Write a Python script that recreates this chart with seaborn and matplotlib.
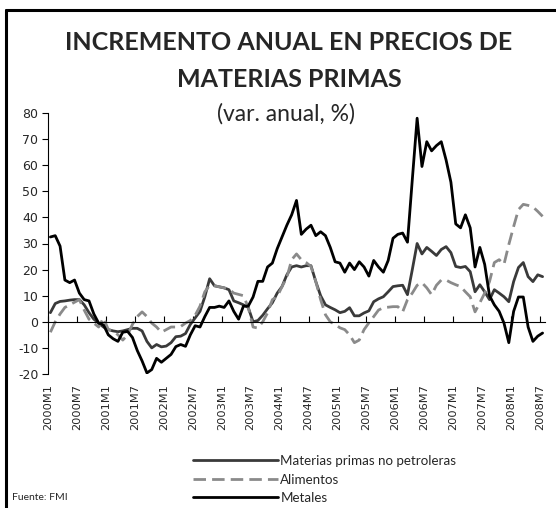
import numpy as np
import pandas as pd
import matplotlib
matplotlib.use("Agg")
import matplotlib.pyplot as plt
import seaborn as sns
from matplotlib.lines import Line2D

# ---------------- data ----------------
periodos = [f"{p.year}M{p.month}" for p in pd.period_range("2000-01", "2008-07", freq="M")]

tick_labels = ["2000M1", "2000M7", "2001M1", "2001M7", "2002M1", "2002M7",
               "2003M1", "2003M7", "2004M1", "2004M7", "2005M1", "2005M7",
               "2006M1", "2006M7", "2007M1", "2007M7", "2008M1", "2008M7"]

materias_primas = [
    3.5, 7, 7.8, 8, 8.3, 8.5, 8.5, 6.5, 3.5, 1,
    -0.5, -2, -3, -3.5, -3.8, -3.5, -3, -2.5, -2.5, -3.5,
    -7.5, -10, -8.7, -9.6, -9.3, -8, -5.7, -5.5, -4.5, -1,
    1.5, 4, 9.6, 16.5, 13.8, 13.4, 13, 12.3, 8, 7.3,
    6.5, 5.5, 0, 0.5, 2.5, 5, 7.3, 11, 13.5, 18,
    21, 21.5, 21, 21.5, 21.5, 15.4, 10, 6.5, 5.5, 4.6,
    3.5, 4, 5.4, 2.3, 2.3, 3.4, 4.2, 7.7, 8.8, 9.6,
    11.5, 13.5, 13.8, 14, 10.4, 20, 30, 26, 28.5, 27,
    25.4, 27.7, 28.8, 26.5, 21.2, 20.8, 21.2, 19.2, 11.5, 14.2,
    11.5, 8.5, 12.3, 11, 9.6, 7.7, 15.4, 20.8, 22.7, 17.3,
    15.4, 18, 17.3]

alimentos = [
    -4, 0, 3, 5.5, 6.5, 7.5, 8.5, 4.5, 1, -0.5,
    -2, 1.5, -3, -3.5, -5, -7, -5, -1, 2, 3.8,
    2, -0.5, -2, -4, -3, -2, -2, -1.8, -0.5, 0.5,
    2.5, 6, 11.5, 14, 13.8, 13.4, 13, 12.5, 11, 10.5,
    10, 5.5, -2, -2.4, 0, 3.4, 8.5, 9.6, 13.5, 17,
    23.8, 26, 23.8, 22.7, 21.2, 15.4, 8.5, 2.7, 0, -1,
    -2.3, -3, -5, -8, -7, -3, -0.4, 2, 4.5, 5.4,
    5.6, 5.8, 5.8, 3.8, 8.5, 11, 14, 15, 13, 10.4,
    14, 16, 16, 15, 14.2, 13.5, 11.5, 9.6, 3.8, 7.3,
    11, 15.4, 22.7, 23.8, 22, 29.6, 36.5, 43, 45, 44.6,
    44, 42.3, 40.4]

metales = [
    32.5, 33, 29, 16, 15, 16, 11, 8.5, 8, 3,
    -0.5, -1.2, -5, -6.5, -7.5, -4, -3.7, -6, -11, -15,
    -19.6, -18.3, -14, -15.5, -14, -12.5, -9.5, -8.7, -9.4, -5,
    -1.5, -2, 2, 5.5, 5.5, 6, 5.5, 8, 4, 1,
    6, 6, 9.5, 15.5, 15.5, 21, 22.5, 28, 32.5, 37,
    41, 46.5, 33.5, 35.5, 37, 33, 34.5, 33, 28.5, 23,
    22.5, 19, 22.5, 20, 23, 21, 17.5, 23.5, 21, 19,
    23.5, 32, 33.5, 34, 30.5, 54.5, 78, 59.5, 69, 65.5,
    67.5, 69, 62, 53.5, 37.5, 36, 41, 36, 21, 28.5,
    22, 10, 6.5, 4, -0.5, -8, 4, 9.5, 9.5, -2,
    -7.5, -5.5, -4.3]

series_names = ["Materias primas no petroleras", "Alimentos", "Metales"]

# ---------------- build frame ----------------
pos = np.arange(len(periodos))
df = pd.DataFrame({"pos": pos, "periodo": periodos,
                   series_names[0]: materias_primas,
                   series_names[1]: alimentos,
                   series_names[2]: metales})
long = df.melt(id_vars=["pos", "periodo"], value_vars=series_names,
               var_name="serie", value_name="valor")

sns.set_style("white")
plt.rcParams['font.family'] = ['DejaVu Sans']
plt.rcParams['axes.unicode_minus'] = False

W, H = 556, 508
fig = plt.figure(figsize=(W / 100, H / 100), dpi=100)
ax = fig.add_axes([48 / W, 1 - 374 / H, (545 - 48) / W, (374 - 113) / H])

palette = {series_names[0]: "#3a3a3a", series_names[1]: "#8a8a8a", series_names[2]: "#000000"}
dashes = {series_names[0]: "", series_names[1]: (4.5, 2.2), series_names[2]: ""}

sns.lineplot(data=long, x="pos", y="valor", hue="serie", style="serie",
             hue_order=series_names, style_order=series_names,
             palette=palette, dashes=dashes, linewidth=2.0, ax=ax)

handles, labels = ax.get_legend_handles_labels()
ax.get_legend().remove()

ax.set_xlim(-0.5, len(periodos) - 0.5)
ax.set_ylim(-20, 80)
ax.set_yticks(np.arange(-20, 81, 10))
ax.set_xlabel("")
ax.set_ylabel("")

for s in ["top", "right"]:
    ax.spines[s].set_visible(False)
ax.spines["left"].set_color("black")
ax.spines["left"].set_linewidth(0.8)
ax.spines["bottom"].set_position(("data", 0))
ax.spines["bottom"].set_color("black")
ax.spines["bottom"].set_linewidth(0.8)

tick_pos = np.arange(0, len(periodos), 6) - 0.5
ax.set_xticks(tick_pos)
ax.tick_params(axis="x", direction="in", length=4, width=0.8, color="black",
               labelbottom=False, bottom=True)
ax.tick_params(axis="y", direction="out", length=4, width=0.8, color="black",
               labelsize=9, pad=3, left=True)

sec = ax.secondary_xaxis("bottom")
sec.set_xticks(tick_pos, labels=tick_labels)
sec.tick_params(length=0, labelsize=8.2, pad=7, labelrotation=90)
sec.spines["bottom"].set_visible(False)

# ---------------- titles ----------------
fig.text(289 / W, 1 - 42 / H, "INCREMENTO ANUAL EN PRECIOS DE", ha="center", va="center",
         fontsize=18, fontweight="bold", family="Lato")
fig.text(289 / W, 1 - 80 / H, "MATERIAS PRIMAS", ha="center", va="center",
         fontsize=18, fontweight="bold", family="Lato")
fig.text(286 / W, 1 - 114 / H, "(var. anual, %)", ha="center", va="center",
         fontsize=16.5, family="Lato")

# ---------------- legend & source ----------------
leg = fig.legend(handles, labels, loc="center left", bbox_to_anchor=(193 / W, 1 - 479.5 / H),
                 frameon=False, prop={"family": "Lato", "size": 9.6},
                 handlelength=6.4, handletextpad=0.15, labelspacing=0.5,
                 borderaxespad=0, borderpad=0)
fig.text(12 / W, 1 - 497 / H, "Fuente: FMI", fontsize=7.5, family="Lato", va="center")

# ---------------- frame ----------------
fig.add_artist(Line2D([6 / W, 6 / W], [0, 1 - 10 / H], color="black", lw=2.2,
                      transform=fig.transFigure))
fig.add_artist(Line2D([6 / W, 1], [1 - 10 / H, 1 - 10 / H], color="black", lw=2.2,
                      transform=fig.transFigure))

fig.savefig("out.png", dpi=100, facecolor="white")
